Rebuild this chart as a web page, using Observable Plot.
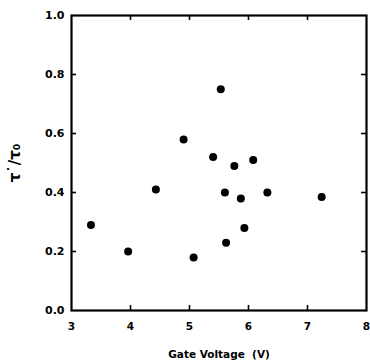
<!DOCTYPE html>
<html>
<head>
<meta charset="utf-8">
<script src="https://cdn.jsdelivr.net/npm/d3@7"></script>
<script src="https://cdn.jsdelivr.net/npm/@observablehq/plot@0.6"></script>
<style>
  html, body { margin: 0; padding: 0; background: #fff; }
  svg { font-family: "DejaVu Sans", "Liberation Sans", Arial, sans-serif; font-weight: bold; }
</style>
</head>
<body>
<div id="chart"></div>
<script>
// Measured ratio tau*/tau0 against gate voltage
const gateVoltage = [3.33, 3.96, 4.43, 4.90, 5.07, 5.40, 5.53, 5.60, 5.62, 5.76, 5.87, 5.93, 6.08, 6.32, 7.24];
const tauRatio    = [0.29, 0.20, 0.41, 0.58, 0.18, 0.52, 0.75, 0.40, 0.23, 0.49, 0.38, 0.28, 0.51, 0.40, 0.385];

const xTickValues = [3, 4, 5, 6, 7, 8];
const yTickValues = [0, 0.2, 0.4, 0.6, 0.8, 1.0];
const xInnerTicks = [4, 5, 6, 7];
const yInnerTicks = [0.2, 0.4, 0.6, 0.8];

const points = gateVoltage.map((v, i) => ({v, r: tauRatio[i]}));

const W = 370, H = 364;
const mL = 71, mR = 4, mT = 15, mB = 54;
const innerW = W - mL - mR, innerH = H - mT - mB;
const tick = 5;

const chart = Plot.plot({
  width: W,
  height: H,
  marginLeft: mL,
  marginRight: mR,
  marginTop: mT,
  marginBottom: mB,
  style: {fontSize: "11px", fontWeight: "bold", color: "#000"},
  x: {domain: [3, 8]},
  y: {domain: [0, 1]},
  marks: [
    Plot.frame({stroke: "#000", strokeWidth: 2.2}),
    // inward ticks on all four sides
    Plot.ruleX(xInnerTicks, {x: d => d, insetTop: innerH - tick, stroke: "#000", strokeWidth: 1.6}),
    Plot.ruleX(xInnerTicks, {x: d => d, insetBottom: innerH - tick, stroke: "#000", strokeWidth: 1.6}),
    Plot.ruleY(yInnerTicks, {y: d => d, insetRight: innerW - tick, stroke: "#000", strokeWidth: 1.6}),
    Plot.ruleY(yInnerTicks, {y: d => d, insetLeft: innerW - tick, stroke: "#000", strokeWidth: 1.6}),
    Plot.axisX({ticks: xTickValues, tickSize: 0, tickPadding: 12, tickFormat: d => String(d),
      label: "Gate Voltage  (V)", labelAnchor: "center", labelArrow: "none", labelOffset: 47,
      fontSize: 10.5, fontWeight: "bold"}),
    Plot.axisY({ticks: yTickValues, tickSize: 0, tickPadding: 7, tickFormat: d3.format(".1f"),
      label: null, fontSize: 11, fontWeight: "bold"}),
    Plot.axisY({ticks: [], label: "τ˙/τ₀", labelAnchor: "center", labelArrow: "none", labelOffset: 62,
      fontSize: 15, fontWeight: "bold"}),
    Plot.dot(points, {x: "v", y: "r", r: 4, fill: "#000", stroke: "none"})
  ]
});
document.getElementById("chart").appendChild(chart);
</script>
</body>
</html>
